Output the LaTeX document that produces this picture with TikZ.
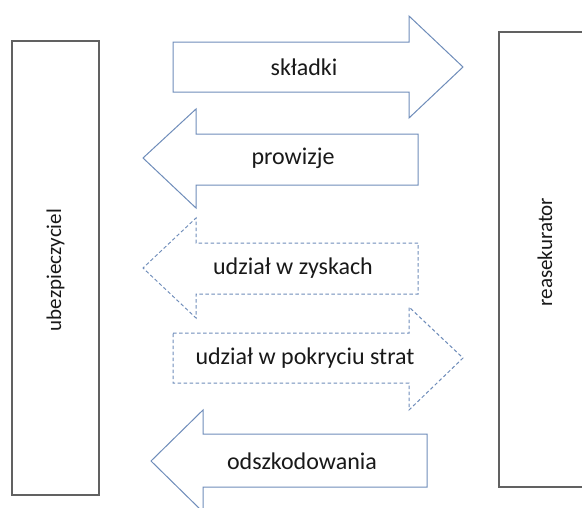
\documentclass[tikz,border=0pt]{standalone}
\usepackage{fontspec}
\setmainfont{Carlito}
\begin{document}
\begin{tikzpicture}[x=1pt,y=-1pt,
  party/.style={draw=black!62,line width=1.4pt,fill=white},
  flow/.style={draw=arrowblue,line width=1pt,line join=miter,fill=white},
  flowdash/.style={flow,dash pattern=on 3.5pt off 2.5pt},
  lbl/.style={font=\fontsize{24}{28}\selectfont,text=black!90,inner sep=0pt},
  vlbl/.style={font=\fontsize{21}{24}\selectfont,text=black!90,inner sep=0pt,rotate=90}]
\definecolor{arrowblue}{HTML}{6F8DBA}
\useasboundingbox (0,0) rectangle (582,507);
\clip (0,0) rectangle (582,507);

% the two parties
\draw[party] (12,41) rectangle (99,495);
\node[vlbl] (ins) at (55.5,270) {ubezpieczyciel};
\draw[party] (499,32) rectangle (590,487);
\node[vlbl] (reins) at (545,252) {reasekurator};

% premiums: to the reinsurer
\draw[flow] (173,42) -- (409,42) -- (409,16) -- (463,67) -- (409,118) -- (409,92) -- (173,92) -- cycle;
\node[lbl] (prem) at (304,67) {składki};

% commissions: back to the insurer
\draw[flow] (418,134) -- (196,134) -- (196,109) -- (143,158) -- (196,208) -- (196,185) -- (418,185) -- cycle;
\node[lbl] (comm) at (293,158) {prowizje};

% profit share
\draw[flowdash] (418,243) -- (196,243) -- (196,218) -- (143,268) -- (196,318) -- (196,294) -- (418,294) -- cycle;
\node[lbl] (profit) at (293,268) {udział w zyskach};

% loss share
\draw[flowdash] (173,333) -- (409,333) -- (409,307) -- (463,358) -- (409,410) -- (409,383) -- (173,383) -- cycle;
\node[lbl] (loss) at (305,358) {udział w pokryciu strat};

% claims
\draw[flow] (427,434) -- (203,434) -- (203,410) -- (151,461) -- (203,512) -- (203,487) -- (427,487) -- cycle;
\node[lbl] (claims) at (302,461) {odszkodowania};
\end{tikzpicture}
\end{document}
